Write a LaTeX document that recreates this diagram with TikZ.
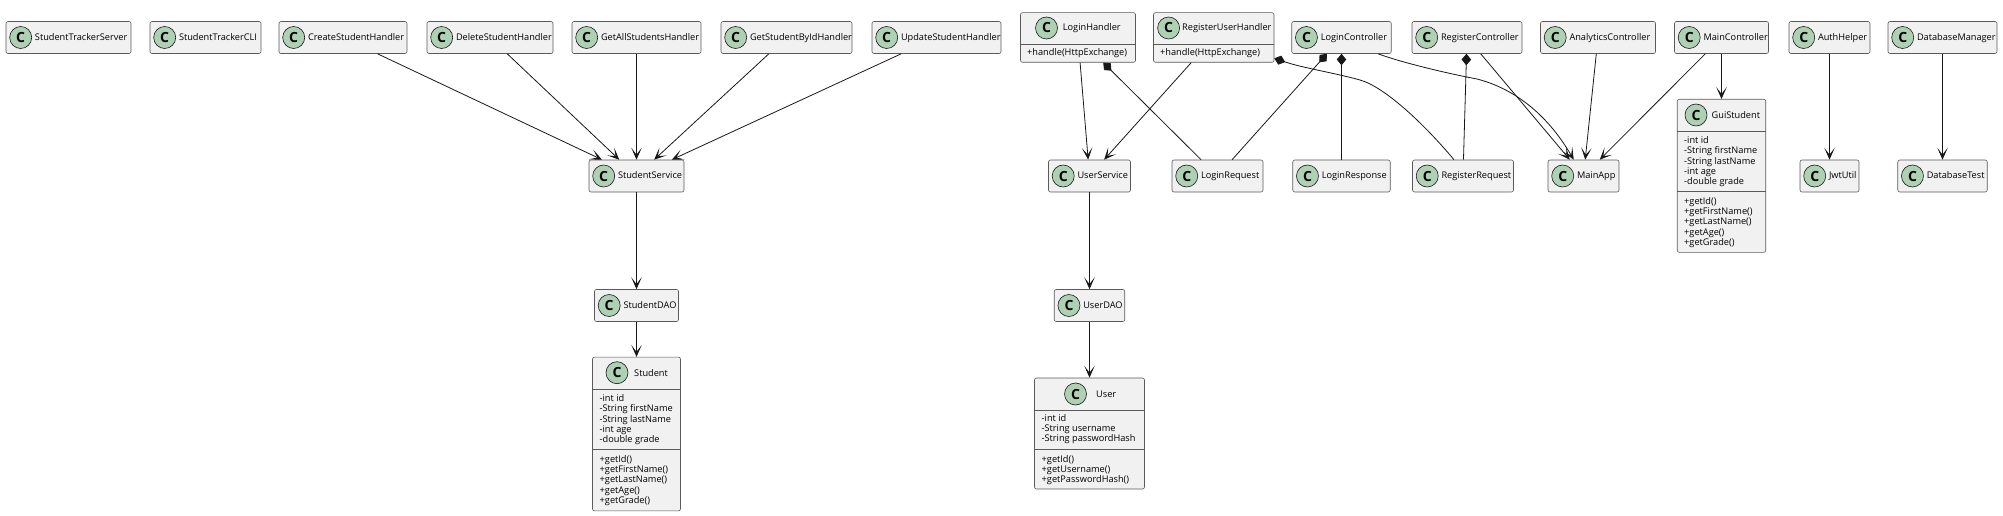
\documentclass[tikz,border=0pt]{standalone}
\usepackage{fontspec}
\setmainfont{Open Sans}
\usepackage{xcolor}
\usetikzlibrary{arrows.meta,positioning,calc}
\definecolor{classfill}{HTML}{F1F1F1}
\definecolor{iconfill}{HTML}{ADD1B2}
\definecolor{linedark}{HTML}{181818}
\definecolor{boxline}{HTML}{5A5A5A}
\tikzset{
    classbox/.style={draw=boxline, rectangle, fill=classfill, line width=0.6pt, rounded corners=2pt, minimum height=32pt, inner xsep=3pt, inner ysep=0pt, align=left, font=\fontsize{9.2}{11}\selectfont, text height=7.5pt, text depth=2pt, execute at begin node={\hspace*{26pt}}},
    headbox/.style={draw=boxline, rectangle, fill=classfill, line width=0.6pt, rounded corners=2pt},
    headname/.style={anchor=west, inner sep=0pt, font=\fontsize{9.2}{11}\selectfont},
    icon/.style={draw=linedark, circle, fill=iconfill, line width=0.6pt, minimum size=22pt, inner sep=0pt, font=\fontsize{14}{14}\bfseries\selectfont},
    members/.style={anchor=north west, inner sep=0pt, align=left, font=\fontsize{9.2}{10.35}\selectfont},
    sepline/.style={draw=boxline, line width=0.6pt},
    arrow/.style={-{Stealth[length=12pt,width=10.5pt,inset=7pt]}, line width=0.8pt, linedark},
    comp/.style={{Diamond[length=11.5pt,width=9.5pt]}-, line width=0.8pt, linedark}
}
\begin{document}
\begin{tikzpicture}[x=1pt,y=-1pt]
    \useasboundingbox (0,0) rectangle (2003,516);

    % plain classes
    \foreach \cname/\xc/\yc/\bw in {StudentTrackerServer/68.5/37.5/125, StudentTrackerCLI/205.5/37.5/111,
        CreateStudentHandler/343/37.5/128, DeleteStudentHandler/490/37.5/126, GetAllStudentsHandler/636.5/37.5/129,
        GetStudentByIdHandler/786.5/37.5/131, UpdateStudentHandler/936.5/37.5/129,
        LoginController/1341.5/37.5/99.5, RegisterController/1467/37.5/110, AnalyticsController/1598/37.5/115,
        MainController/1721.5/37.5/94, AuthHelper/1829.5/37.5/81, DatabaseManager/1942.5/37.5/109,
        StudentService/636.5/176/95, UserService/1089.5/176/82, LoginRequest/1217.5/176/91,
        LoginResponse/1341.5/176/97.5, RegisterRequest/1463/176/101, MainApp/1583.5/176/71,
        JwtUtil/1829.5/176/59, DatabaseTest/1942.5/176/89.5,
        StudentDAO/636.5/305.5/84, UserDAO/1089.5/305.5/70.5} {
        \node[classbox, text width=\bw pt-6pt] (\cname) at (\xc,\yc) {\mbox{\cname}};
        \node[icon] (\cname-icon) at ($(\cname.west)+(15,0)$) {C};
    }

    % classes with compartments
    \foreach \cname/\xc/\yc/\bw/\bh/\ix/\iy/\tx in {LoginHandler/1078/37.5/115/49.6/1046.5/28/1062.7,
        RegisterUserHandler/1213.75/37.5/120.5/49.6/1168.6/28/1182,
        Student/636.5/434/88/153.7/617/372.7/634,
        User/1089.5/433.5/110/111/1075.5/394/1096,
        GuiStudent/1721.5/175.8/88.5/153/1696/115/1711.5} {
        \node[headbox, minimum width=\bw pt, minimum height=\bh pt, inner sep=0pt] (\cname) at (\xc,\yc) {};
        \node[icon] (\cname-icon) at (\ix,\iy) {C};
        \node[headname] (\cname-name) at (\tx,\iy) {\cname};
    }
    \draw[sepline] (LoginHandler.west |- 0,44) -- (LoginHandler.east |- 0,44);
    \draw[sepline] (RegisterUserHandler.west |- 0,44) -- (RegisterUserHandler.east |- 0,44);
    \draw[sepline] (Student.west |- 0,389.5) -- (Student.east |- 0,389.5);
    \draw[sepline] (Student.west |- 0,449.5) -- (Student.east |- 0,449.5);
    \draw[sepline] (User.west |- 0,410) -- (User.east |- 0,410);
    \draw[sepline] (User.west |- 0,449.5) -- (User.east |- 0,449.5);
    \draw[sepline] (GuiStudent.west |- 0,131.3) -- (GuiStudent.east |- 0,131.3);
    \draw[sepline] (GuiStudent.west |- 0,191.7) -- (GuiStudent.east |- 0,191.7);

    \node[members] (LoginHandler-ops) at (1027,48.5) {+handle(HttpExchange)};
    \node[members] (RegisterUserHandler-ops) at (1160,48.5) {+handle(HttpExchange)};
    \node[members] (Student-attrs) at (599.5,394.3) {-int id\\-String firstName\\-String lastName\\-int age\\-double grade};
    \node[members] (Student-ops) at (599.5,455) {+getId()\\+getFirstName()\\+getLastName()\\+getAge()\\+getGrade()};
    \node[members] (User-attrs) at (1041.5,414) {-int id\\-String username\\-String passwordHash};
    \node[members] (User-ops) at (1041.5,455) {+getId()\\+getUsername()\\+getPasswordHash()};
    \node[members] (GuiStudent-attrs) at (1684,136.3) {-int id\\-String firstName\\-String lastName\\-int age\\-double grade};
    \node[members] (GuiStudent-ops) at (1684,197) {+getId()\\+getFirstName()\\+getLastName()\\+getAge()\\+getGrade()};

    % dependencies
    \foreach \from/\to in {CreateStudentHandler/StudentService, DeleteStudentHandler/StudentService,
        GetAllStudentsHandler/StudentService, GetStudentByIdHandler/StudentService, UpdateStudentHandler/StudentService,
        StudentService/StudentDAO, LoginHandler/UserService, RegisterUserHandler/UserService, UserService/UserDAO,
        UserDAO/User, RegisterController/MainApp, AnalyticsController/MainApp, MainController/MainApp,
        MainController/GuiStudent, AuthHelper/JwtUtil, DatabaseManager/DatabaseTest, StudentDAO/Student} {
        \draw[arrow] (\from) -- (\to);
    }
    \draw[arrow] (LoginController.-24.2) .. controls (1400,62) and (1445,73) .. (1477,79)
        .. controls (1512,88) and (1546,112) .. (MainApp.121);

    % compositions
    \foreach \from/\to in {LoginHandler/LoginRequest, LoginController/LoginRequest,
        LoginController/LoginResponse, RegisterController/RegisterRequest} {
        \draw[comp] (\from) -- (\to);
    }
    \draw[comp] (RegisterUserHandler.-19) .. controls (1303,68) and (1335,73) .. (1360,80)
        .. controls (1385,87) and (1425,125) .. (RegisterRequest.119);
\end{tikzpicture}
\end{document}
